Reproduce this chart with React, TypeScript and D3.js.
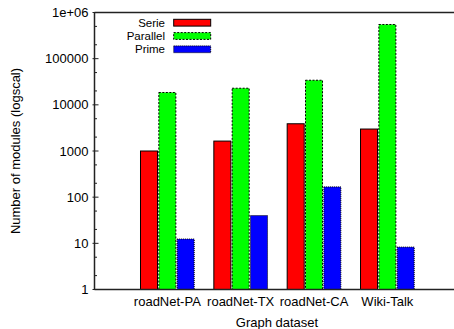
import React from "react";
import * as d3 from "d3";

const categories = ["roadNet-PA", "roadNet-TX", "roadNet-CA", "Wiki-Talk"];
const seriesNames = ["Serie", "Parallel", "Prime"];
const serieValues = [1000, 1640, 3890, 2990];
const parallelValues = [18500, 22900, 34100, 550000];
const primeValues = [12.4, 40, 167, 8.3];
const yTickValues = [1, 10, 100, 1000, 10000, 100000, 1000000];
const yTickLabels = ["1", "10", "100", "1000", "10000", "100000", "1e+06"];

const W = 454;
const H = 329;
const FONT = "'Liberation Sans', Arial, sans-serif";

export default function App() {
  const left = 94.5;
  const top = 12.5;
  const bottom = 289.5;
  const x = d3.scaleLinear().domain([-1, 4]).range([94, 460.7]);
  const y = d3.scaleLog().domain([1, 1e6]).range([bottom, top]);
  const series = [
    { name: seriesNames[0], values: serieValues, fill: "#ff0000", dash: "none" },
    { name: seriesNames[1], values: parallelValues, fill: "#00ff00", dash: "2,1.5" },
    { name: seriesNames[2], values: primeValues, fill: "#0000ff", dash: "1,1" },
  ];
  const offsets = [-0.25, 0, 0.25];
  const bw = x(0.232) - x(0);
  const minor: number[] = [];
  for (let e = 0; e < 6; e++) {
    minor.push(2 * Math.pow(10, e), 5 * Math.pow(10, e));
  }
  return (
    <svg width={W} height={H} style={{ position: "absolute", left: 0, top: 0, background: "#fff" }} fontFamily={FONT}>
      <rect x={0} y={0} width={W} height={H} fill="#fff" />
      {series.map((s, si) =>
        s.values.map((v, i) => {
          const cx = x(i + offsets[si]);
          return (
            <rect
              key={si + "-" + i}
              x={cx - bw / 2}
              y={y(v)}
              width={bw}
              height={bottom - y(v)}
              fill={s.fill}
              stroke="#000"
              strokeWidth={1}
              strokeDasharray={s.dash}
            />
          );
        })
      )}
      <line x1={left} x2={W} y1={top} y2={top} stroke="#222" strokeWidth={1.5} />
      <line x1={left} x2={W} y1={bottom} y2={bottom} stroke="#222" strokeWidth={1.5} />
      <line x1={left} x2={left} y1={top} y2={bottom} stroke="#222" strokeWidth={1.5} />
      {yTickValues.map((t, i) => (
        <g key={"yt" + i}>
          <line x1={left - 2} x2={left + 4} y1={y(t)} y2={y(t)} stroke="#222" strokeWidth={1} />
          <text x={left - 6} y={y(t)} dy="0.35em" textAnchor="end" fontSize={13} fill="#000">
            {yTickLabels[i]}
          </text>
        </g>
      ))}
      {minor.map((t, i) => (
        <line key={"mt" + i} x1={left} x2={left + 2.5} y1={y(t)} y2={y(t)} stroke="#222" strokeWidth={1} />
      ))}
      {categories.map((c, i) => (
        <text key={c} x={x(i)} y={306} textAnchor="middle" fontSize={13} fill="#000">
          {c}
        </text>
      ))}
      <text x={277} y={327} textAnchor="middle" fontSize={13} fill="#000">
        Graph dataset
      </text>
      <text
        transform={`translate(20,${(top + bottom) / 2}) rotate(-90)`}
        textAnchor="middle"
        fontSize={13}
        fill="#000"
      >
        Number of modules (logscal)
      </text>
      {series.map((s, si) => {
        const cy = 22.7 + si * 13.3;
        return (
          <g key={"lg" + si}>
            <text x={165} y={cy} dy="0.35em" textAnchor="end" fontSize={11.5} fill="#000">
              {s.name}
            </text>
            <rect
              x={173.7}
              y={cy - 3.4}
              width={37}
              height={6.8}
              fill={s.fill}
              stroke="#000"
              strokeWidth={1}
              strokeDasharray={s.dash}
            />
          </g>
        );
      })}
    </svg>
  );
}
